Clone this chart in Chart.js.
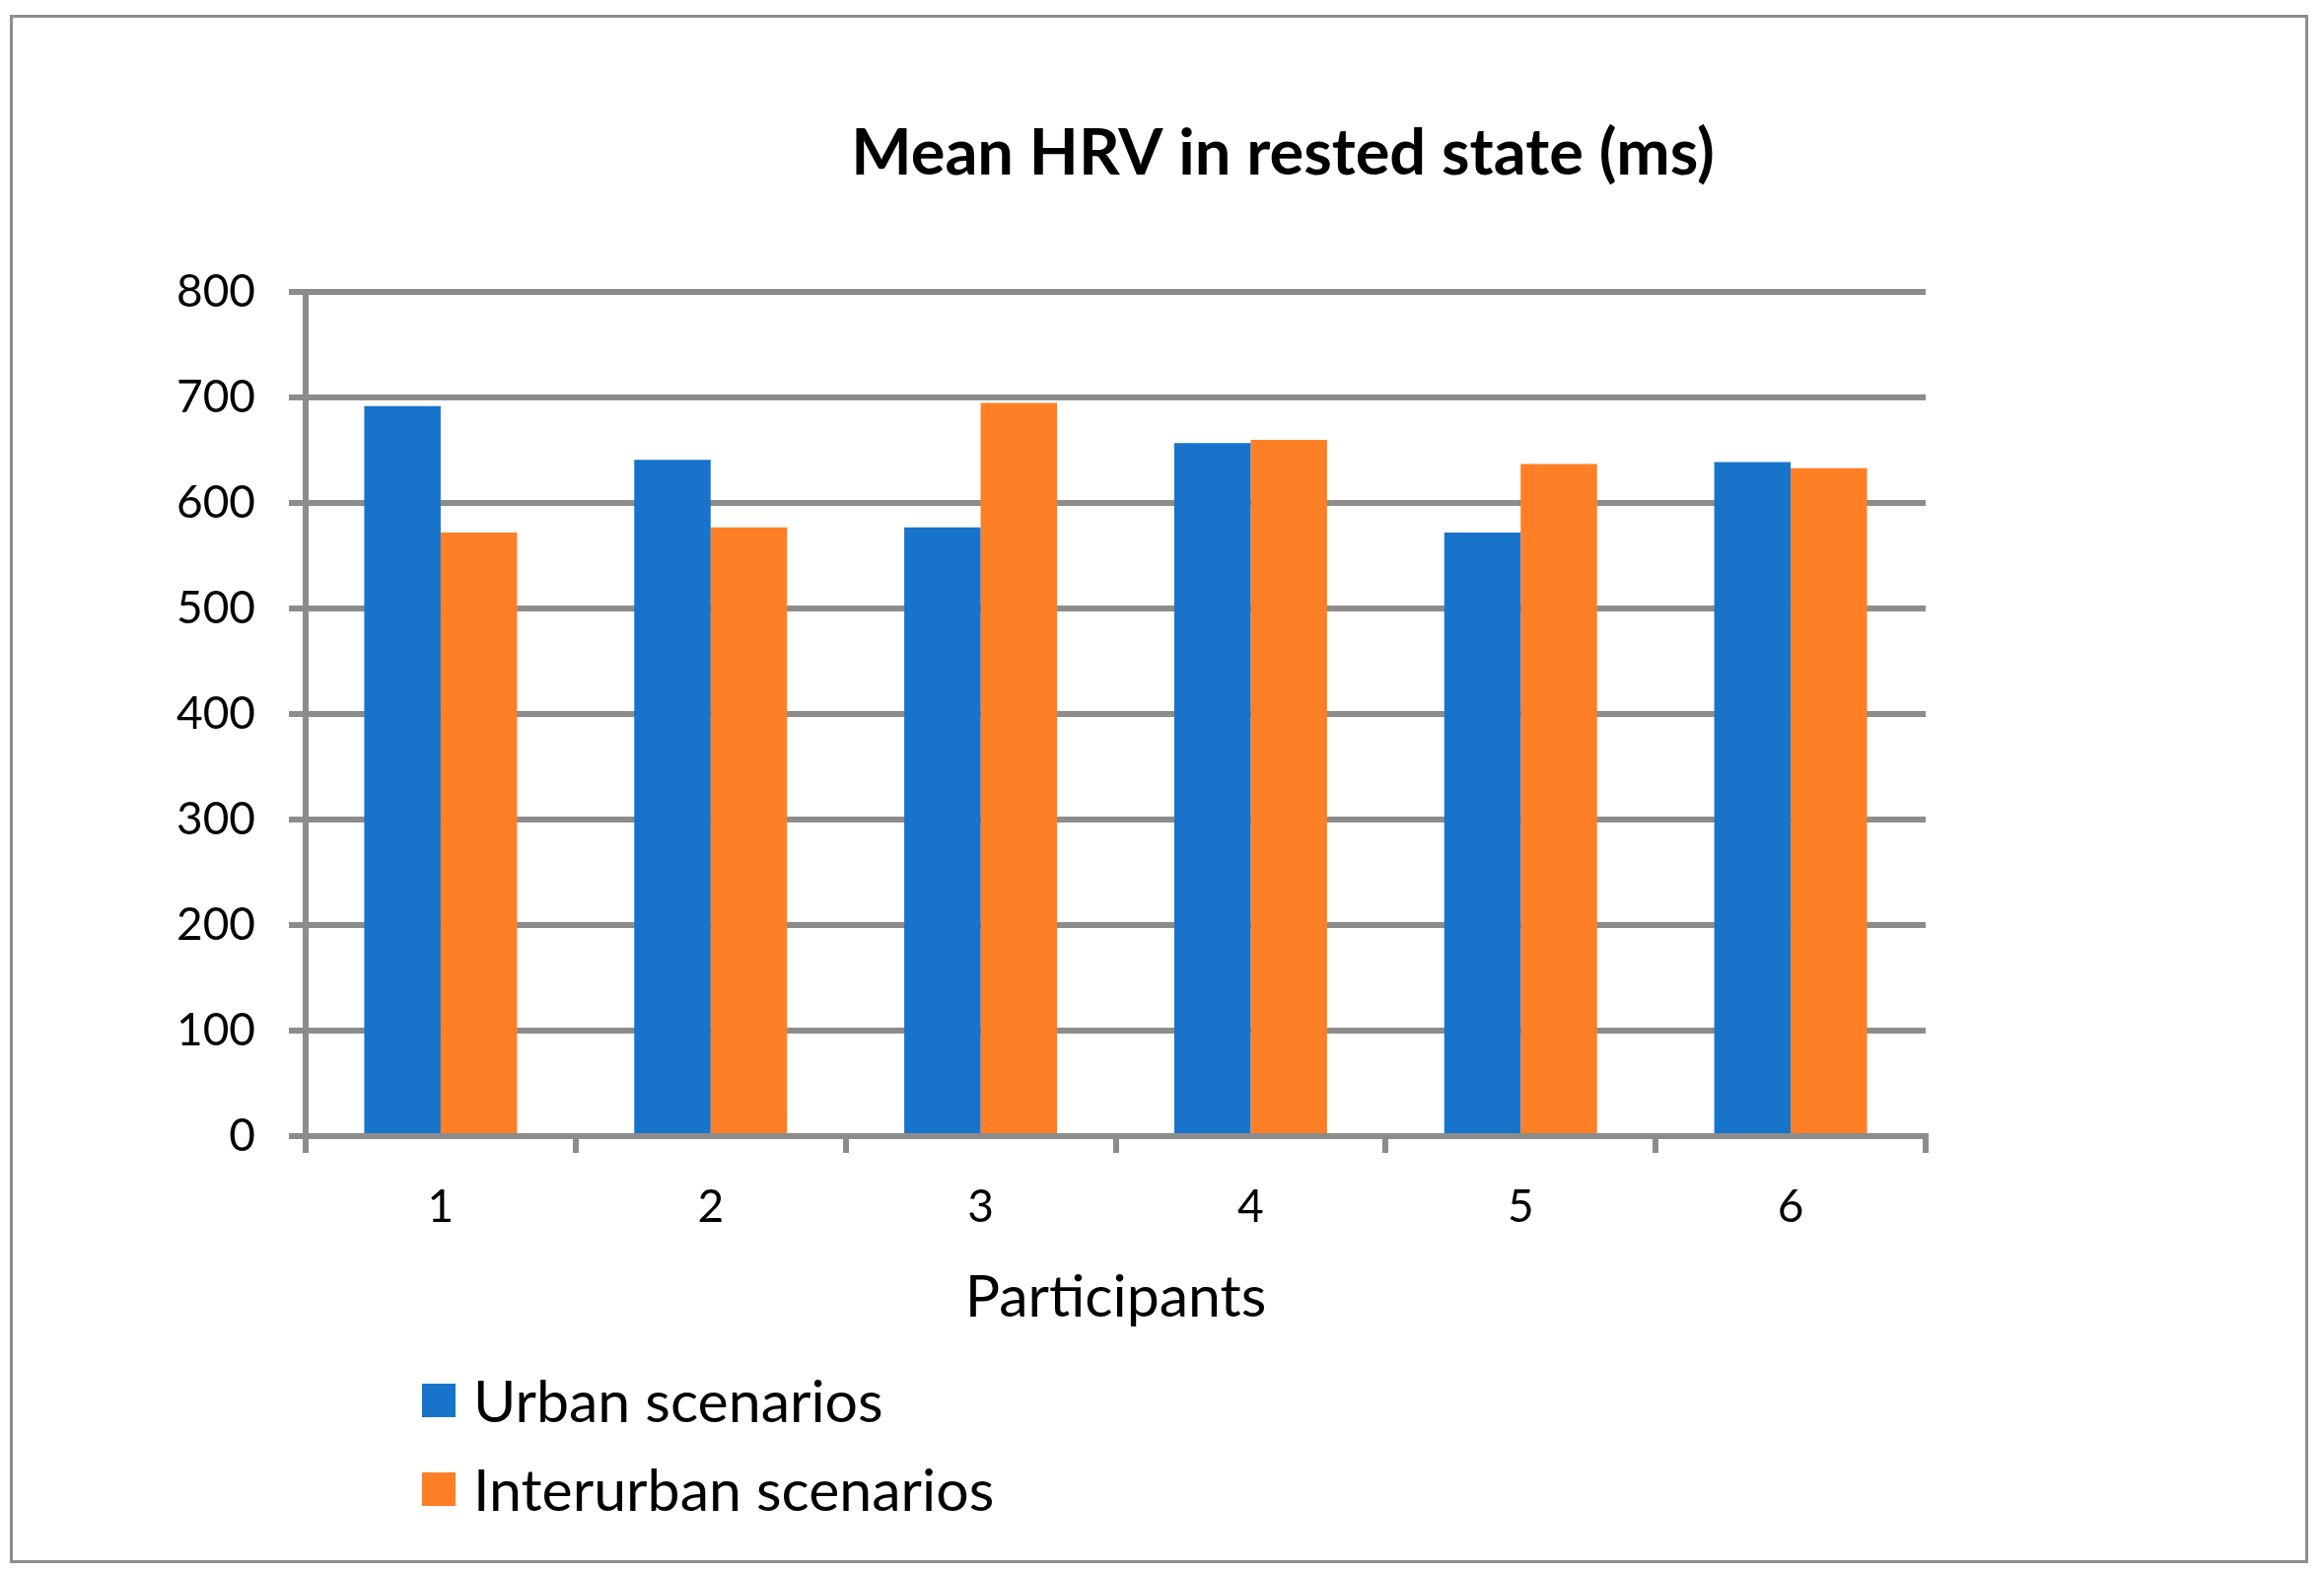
<!DOCTYPE html>
<html><head><meta charset="utf-8">
<script src="https://cdn.jsdelivr.net/npm/chart.js@4/dist/chart.umd.min.js"></script>
<style>
html,body{margin:0;padding:0;background:#fff;overflow:hidden;}
#frame{position:absolute;left:10px;top:15px;width:2331px;height:1570px;box-sizing:border-box;border:3px solid #8e8e8e;}
#wrap{position:absolute;left:0;top:0;width:2357px;height:1596px;}
#legend{position:absolute;left:428px;top:1403px;font-family:Lato,sans-serif;font-size:59px;color:#000;}
.item{display:flex;align-items:center;height:34px;margin-bottom:55.5px;white-space:nowrap;}
.sw{width:34px;height:34px;margin-right:18px;flex:none;}
.tx{line-height:34px;}
</style></head><body>
<div id="frame"></div>
<div id="wrap"><canvas id="c"></canvas></div>
<div id="legend"></div>
<script>
// ---- data ----
const participants = ['1', '2', '3', '4', '5', '6'];
const urbanScenarios = [692, 641, 577, 657, 572, 639];
const interurbanScenarios = [572, 577, 695, 660, 637, 633];
const seriesNames = ['Urban scenarios', 'Interurban scenarios'];
const seriesColors = ['#1874CB', '#FF7F27'];
const yTickValues = [0, 100, 200, 300, 400, 500, 600, 700, 800];
const chartTitle = 'Mean HRV in rested state (ms)';
const xAxisTitle = 'Participants';

// ---- style ----
const GRID = '#8C8C8C';
Chart.defaults.font.family = 'Lato, sans-serif';
Chart.defaults.color = '#000';

const titleShift = {
  id: 'titleShift',
  afterLayout(chart, args, opts) {
    const t = chart.titleBlock;
    if (!t) return;
    const d = opts.centerX - (t.left + t.right) / 2;
    t.left += d; t.right += d;
  }
};

const chart = new Chart(document.getElementById('c'), {
  type: 'bar',
  data: {
    labels: participants,
    datasets: [
      { label: seriesNames[0], data: urbanScenarios, backgroundColor: seriesColors[0], borderWidth: 0 },
      { label: seriesNames[1], data: interurbanScenarios, backgroundColor: seriesColors[1], borderWidth: 0 }
    ]
  },
  options: {
    responsive: true,
    maintainAspectRatio: false,
    animation: false,
    devicePixelRatio: 1,
    layout: { padding: { left: 0, right: 404, top: 0, bottom: 0 } },
    datasets: { bar: { categoryPercentage: 0.566, barPercentage: 1.0 } },
    plugins: {
      legend: { display: false },
      tooltip: { enabled: false },
      title: {
        display: true,
        text: chartTitle,
        color: '#000',
        font: { size: 65, weight: 'bold', family: 'Lato, sans-serif' },
        padding: { top: 116.6, bottom: 101.6 }
      },
      titleShift: { centerX: 1301 }
    },
    scales: {
      x: {
        grid: { display: true, drawOnChartArea: false, drawTicks: true, tickLength: 17, color: GRID, lineWidth: 6 },
        border: { display: true, color: GRID, width: 6, z: 1 },
        ticks: { font: { size: 46 }, padding: 28, color: '#000' },
        title: { display: true, text: xAxisTitle, color: '#000', font: { size: 59 }, padding: { top: 0, bottom: 245 } },
        afterFit(scale) { scale.height = 444; }
      },
      y: {
        min: 0, max: 800,
        afterBuildTicks(scale) { scale.ticks = yTickValues.map(v => ({ value: v })); },
        grid: { display: true, drawOnChartArea: true, drawTicks: true, tickLength: 17, color: GRID, lineWidth: 6 },
        border: { display: true, color: GRID, width: 6 },
        ticks: { font: { size: 46 }, padding: 34, color: '#000' },
        afterFit(scale) { scale.width = 310; }
      }
    }
  },
  plugins: [titleShift]
});

// HTML legend built from the chart's datasets
const lg = document.getElementById('legend');
chart.data.datasets.forEach(ds => {
  const item = document.createElement('div'); item.className = 'item';
  const sw = document.createElement('span'); sw.className = 'sw'; sw.style.background = ds.backgroundColor;
  const tx = document.createElement('span'); tx.className = 'tx'; tx.textContent = ds.label;
  item.appendChild(sw); item.appendChild(tx); lg.appendChild(item);
});
</script>
</body></html>
